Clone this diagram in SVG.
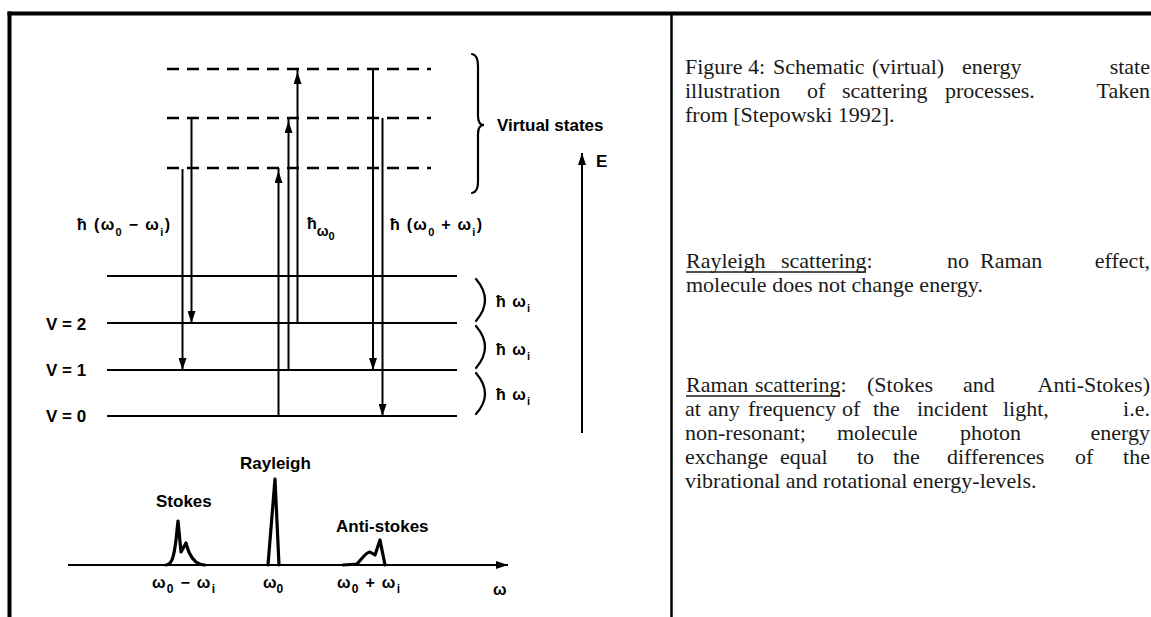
<svg xmlns="http://www.w3.org/2000/svg" width="1151" height="617" viewBox="0 0 1151 617">
<defs>
<style>
.frame{stroke:#000;fill:none}
.dash{stroke:#000;stroke-width:2.5;stroke-dasharray:12 8;fill:none}
.lvl{stroke:#000;stroke-width:2;fill:none}
.tr{stroke:#000;stroke-width:2;fill:none}
.brace{stroke:#000;stroke-width:2.2;fill:none;stroke-linecap:round}
.peak{stroke:#000;stroke-width:3.2;fill:none;stroke-linejoin:round;stroke-linecap:round}
.lbl{font-family:"Liberation Sans",Arial,Helvetica,sans-serif;font-weight:bold;fill:#000}
.big{font-size:17px}
.mid{font-size:16px}
.cap{font-family:"Liberation Serif","Times New Roman",serif;font-size:22px;fill:#1a1a1a}
.end{text-anchor:end}
.ul{stroke:#1a1a1a;stroke-width:1.5}
</style>
<marker id="ah" viewBox="0 0 12 8" refX="12" refY="4" markerWidth="12" markerHeight="8" markerUnits="userSpaceOnUse" orient="auto"><path d="M0,0 L12,4 L0,8 z" fill="#000"/></marker>
<marker id="ahOff" viewBox="0 0 15 8" refX="15" refY="4" markerWidth="15" markerHeight="8" markerUnits="userSpaceOnUse" orient="auto"><path d="M0,0 L12,4 L0,8 z" fill="#000"/></marker>
</defs>
<rect width="1151" height="617" fill="#fff"/>

<g id="frame">
<line class="frame" x1="7.5" y1="13.5" x2="1151" y2="13.5" stroke-width="4"/>
<line class="frame" x1="9.5" y1="11.5" x2="9.5" y2="617" stroke-width="4"/>
<line class="frame" x1="671.5" y1="13" x2="671.5" y2="617" stroke-width="2.5"/>
</g>

<g id="virtual-states">
<line class="dash" x1="167" y1="69" x2="431" y2="69"/>
<line class="dash" x1="167" y1="118" x2="431" y2="118"/>
<line class="dash" x1="167" y1="168" x2="431" y2="168"/>
<path class="brace" d="M472,54 Q478,55 478,66 L478,116 Q478,125 484,125 Q478,125 478,134 L478,182 Q478,192 472,193"/>
<text class="lbl big" x="497" y="131">Virtual states</text>
</g>

<g id="energy-levels">
<line class="lvl" x1="107" y1="276" x2="457" y2="276"/>
<line class="lvl" x1="107" y1="323" x2="457" y2="323"/>
<line class="lvl" x1="107" y1="370" x2="457" y2="370"/>
<line class="lvl" x1="107" y1="416" x2="457" y2="416"/>
<text class="lbl big" x="46" y="330">V = 2</text>
<text class="lbl big" x="46" y="376">V = 1</text>
<text class="lbl big" x="46" y="422">V = 0</text>
<path class="brace" d="M476,279 Q494,300 476,321"/>
<path class="brace" d="M476,326 Q494,347 476,368"/>
<path class="brace" d="M476,373 Q494,394 476,414"/>
<text class="lbl mid" x="496" y="307" textLength="34" lengthAdjust="spacing">ħ ω<tspan font-size="11" dy="5">i</tspan></text>
<text class="lbl mid" x="496" y="355" textLength="34" lengthAdjust="spacing">ħ ω<tspan font-size="11" dy="5">i</tspan></text>
<text class="lbl mid" x="496" y="400" textLength="34" lengthAdjust="spacing">ħ ω<tspan font-size="11" dy="5">i</tspan></text>
</g>

<g id="energy-axis">
<line class="tr" x1="582" y1="433" x2="582" y2="153" marker-end="url(#ah)"/>
<text class="lbl big" x="596" y="167">E</text>
</g>

<g id="transitions">
<line class="tr" x1="182.5" y1="169" x2="182.5" y2="370" marker-end="url(#ah)"/>
<line class="tr" x1="191.5" y1="118" x2="191.5" y2="323" marker-end="url(#ah)"/>
<line class="tr" x1="278.5" y1="416" x2="278.5" y2="168" marker-end="url(#ahOff)"/>
<line class="tr" x1="288.5" y1="370" x2="288.5" y2="118" marker-end="url(#ahOff)"/>
<line class="tr" x1="297.5" y1="323" x2="297.5" y2="69" marker-end="url(#ahOff)"/>
<line class="tr" x1="373" y1="69" x2="373" y2="370" marker-end="url(#ah)"/>
<line class="tr" x1="382.5" y1="118" x2="382.5" y2="416" marker-end="url(#ah)"/>
</g>

<g id="transition-labels">
<text class="lbl mid" x="77" y="230" textLength="93" lengthAdjust="spacing">ħ (ω<tspan font-size="11" dy="6">0</tspan><tspan dy="-6"> − ω</tspan><tspan font-size="11" dy="6">i</tspan><tspan dy="-6">)</tspan></text>
<text class="lbl mid" x="307" y="229">ħ<tspan font-size="14" dy="7">ω</tspan><tspan font-size="11" dy="4">0</tspan></text>
<text class="lbl mid" x="390" y="230" textLength="92" lengthAdjust="spacing">ħ (ω<tspan font-size="11" dy="6">0</tspan><tspan dy="-6"> + ω</tspan><tspan font-size="11" dy="6">i</tspan><tspan dy="-6">)</tspan></text>
</g>

<g id="spectrum">
<line class="tr" x1="68" y1="565" x2="508" y2="565" marker-end="url(#ah)"/>
<path class="peak" d="M166,565 C172,565 174,556 176,540 L178,521 L181,552 L186,543 C188,550 190,557 196,562 C199,564 202,565 205,565"/>
<path class="peak" d="M268,565 L275,479 L279,565" fill="#000"/>
<path class="peak" d="M343,565 L357,564 C361,560 366,552 370,552 L375,555 L380,540 L385,565"/>
<text class="lbl big" x="240" y="469">Rayleigh</text>
<text class="lbl big" x="156" y="507">Stokes</text>
<text class="lbl big" x="336" y="532">Anti-stokes</text>
<text class="lbl mid" x="152" y="588" textLength="63" lengthAdjust="spacing">ω<tspan font-size="12" dy="5">0</tspan><tspan dy="-5"> − ω</tspan><tspan font-size="12" dy="5">i</tspan></text>
<text class="lbl mid" x="263" y="588">ω<tspan font-size="12" dy="5">0</tspan></text>
<text class="lbl mid" x="337" y="588" textLength="63" lengthAdjust="spacing">ω<tspan font-size="12" dy="5">0</tspan><tspan dy="-5"> + ω</tspan><tspan font-size="12" dy="5">i</tspan></text>
<text class="lbl mid" x="493" y="595">ω</text>
</g>

<g id="caption">
<text class="cap" y="74"><tspan x="685">Figure</tspan><tspan x="748">4:</tspan><tspan x="773">Schematic</tspan><tspan x="872">(virtual)</tspan><tspan x="962">energy</tspan></text>
<text class="cap end" x="1150" y="74">state</text>
<text class="cap" y="98"><tspan x="685">illustration</tspan><tspan x="807">of</tspan><tspan x="842">scattering</tspan><tspan x="945">processes.</tspan></text>
<text class="cap end" x="1150" y="98">Taken</text>
<text class="cap" y="122" x="685">from [Stepowski 1992].</text>
</g>

<g id="rayleigh-text">
<text class="cap" y="268"><tspan x="686">Rayleigh</tspan><tspan x="781">scattering:</tspan><tspan x="947">no</tspan><tspan x="980">Raman</tspan></text>
<text class="cap end" x="1150" y="268">effect,</text>
<line class="ul" x1="686" y1="272" x2="866" y2="272"/>
<text class="cap" y="292" x="686">molecule does not change energy.</text>
</g>

<g id="raman-text">
<text class="cap" y="392"><tspan x="686">Raman</tspan><tspan x="755">scattering:</tspan><tspan x="867">(Stokes</tspan><tspan x="963">and</tspan></text>
<text class="cap end" x="1150" y="392">Anti-Stokes)</text>
<line class="ul" x1="686" y1="396" x2="840" y2="396"/>
<text class="cap" y="416"><tspan x="685">at</tspan><tspan x="708">any</tspan><tspan x="748">frequency</tspan><tspan x="842">of</tspan><tspan x="873">the</tspan><tspan x="917">incident</tspan><tspan x="1003">light,</tspan></text>
<text class="cap end" x="1150" y="416">i.e.</text>
<text class="cap" y="440"><tspan x="685">non-resonant;</tspan><tspan x="837">molecule</tspan><tspan x="960">photon</tspan></text>
<text class="cap end" x="1150" y="440">energy</text>
<text class="cap" y="464"><tspan x="685">exchange</tspan><tspan x="780">equal</tspan><tspan x="857">to</tspan><tspan x="893">the</tspan><tspan x="947">differences</tspan><tspan x="1075">of</tspan></text>
<text class="cap end" x="1150" y="464">the</text>
<text class="cap" y="488" x="685">vibrational and rotational energy-levels.</text>
</g>
</svg>
